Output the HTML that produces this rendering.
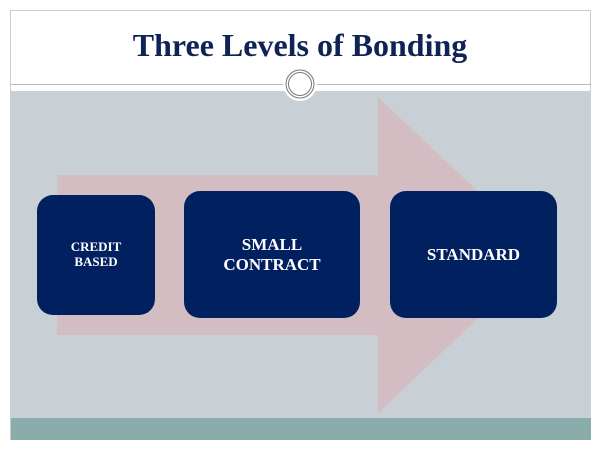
<!DOCTYPE html>
<html><head><style>
body{margin:0;width:600px;height:450px;background:#fff;position:relative;overflow:hidden;font-family:"Liberation Serif",serif}
.b{position:absolute;background:#002060;border-radius:16px;color:#fff;font-weight:bold;display:flex;align-items:center;justify-content:center;text-align:center;line-height:1.15}
</style></head><body>
<div style="position:absolute;left:10px;top:10px;width:581px;height:430px;border:1px solid #ccc;border-bottom:none;box-sizing:border-box"></div>
<div style="position:absolute;left:0;top:27px;width:600px;text-align:center;font-size:32px;font-weight:bold;color:#0f2355">Three Levels of Bonding</div>
<div style="position:absolute;left:11px;top:84px;width:580px;height:1px;background:#bbb"></div>
<div style="position:absolute;left:11px;top:91px;width:580px;height:327px;background:#c8d0d6"></div>
<div style="position:absolute;left:11px;top:418px;width:580px;height:22px;background:#8aacaa"></div>
<svg style="position:absolute;left:0;top:0" width="600" height="450">
<polygon points="57,175 378,175 378,97 545,255 378,413 378,335 57,335" fill="#d3bcc2"/>
<circle cx="300" cy="84" r="17" fill="#fff"/>
<circle cx="300" cy="84" r="14" fill="none" stroke="#777" stroke-width="1"/>
<circle cx="300" cy="84" r="11.5" fill="none" stroke="#777" stroke-width="1"/>
</svg>
<div class="b" style="left:37px;top:195px;width:118px;height:120px;font-size:13px">CREDIT<br>BASED</div>
<div class="b" style="left:184px;top:191px;width:176px;height:127px;font-size:17px">SMALL<br>CONTRACT</div>
<div class="b" style="left:390px;top:191px;width:167px;height:127px;font-size:17px">STANDARD</div>
</body></html>
